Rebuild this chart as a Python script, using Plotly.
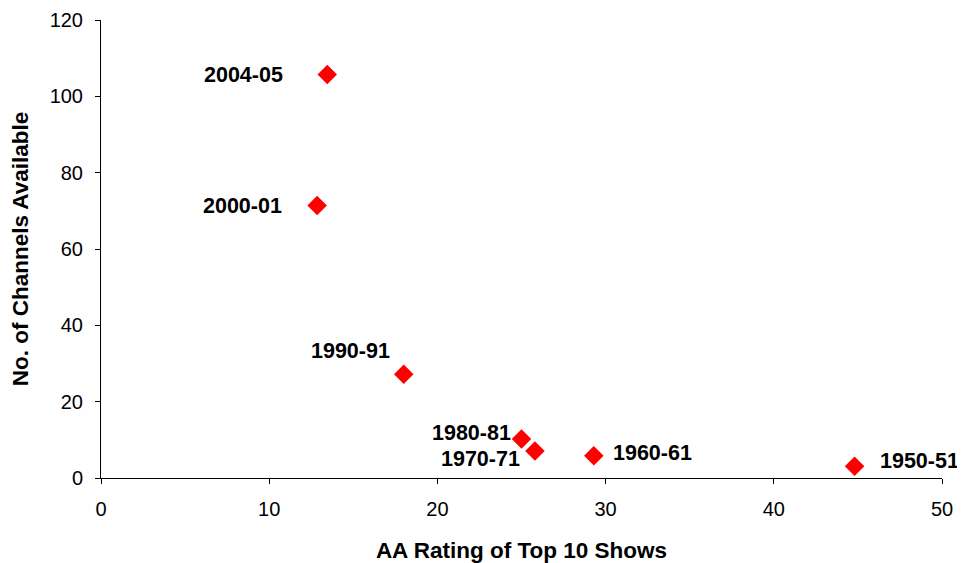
import plotly.graph_objects as go

seasons = ["2004-05", "2000-01", "1990-91", "1980-81", "1970-71", "1960-61", "1950-51"]
aa_rating = [13.45, 12.85, 18.0, 25.0, 25.8, 29.3, 44.8]
channels = [105.7, 71.4, 27.2, 10.2, 7.1, 5.8, 3.1]
# label placement offsets (pixels) relative to each point
label_side = ["left", "left", "left", "left", "left", "right", "right"]
label_dx = [-42, -33, -12, -9, -13, 17, 23]
label_dy = [0, -1, 23, 6, -8, 3, 5]

fig = go.Figure()
fig.add_trace(go.Scatter(
    x=aa_rating, y=channels, mode="markers",
    marker=dict(symbol="diamond", size=15, color="#FF0000", line=dict(width=0)),
    showlegend=False, hoverinfo="skip"))

for s, xv, yv, side, dx, dy in zip(seasons, aa_rating, channels, label_side, label_dx, label_dy):
    fig.add_annotation(x=xv, y=yv, text="<b>" + s + "</b>", showarrow=False,
                       xanchor="right" if side == "left" else "left", yanchor="middle",
                       xshift=dx, yshift=dy,
                       font=dict(family="Liberation Sans, Arial", size=21.5, color="#000000"))

axis_font = dict(family="Liberation Sans, Arial", size=20, color="#000000")
title_font = dict(family="Liberation Sans, Arial", size=22.5, color="#000000")
fig.update_layout(
    width=957, height=555,
    margin=dict(l=93, r=23, t=12, b=85, autoexpand=False),
    paper_bgcolor="white", plot_bgcolor="white",
    font=axis_font,
    xaxis=dict(range=[0, 50], tickvals=[0, 10, 20, 30, 40, 50], showgrid=False, zeroline=False,
               showline=True, linecolor="#000000", linewidth=1, ticks="outside", ticklen=5,
               tickcolor="#000000", tickfont=axis_font, ticklabelstandoff=8, automargin=False,
               ticklabeloverflow="allow",
               title=dict(text="<b>AA Rating of Top 10 Shows</b>", standoff=28, font=title_font)),
    yaxis=dict(range=[0, 120], tickvals=[0, 20, 40, 60, 80, 100, 120], showgrid=False, zeroline=False,
               showline=True, linecolor="#000000", linewidth=1, ticks="outside", ticklen=5,
               tickcolor="#000000", tickfont=axis_font, ticklabelstandoff=8, automargin=False,
               ticklabeloverflow="allow",
               title=dict(text="<b>No. of Channels Available</b>", standoff=22, font=title_font)),
)
fig.write_html("out.html")
